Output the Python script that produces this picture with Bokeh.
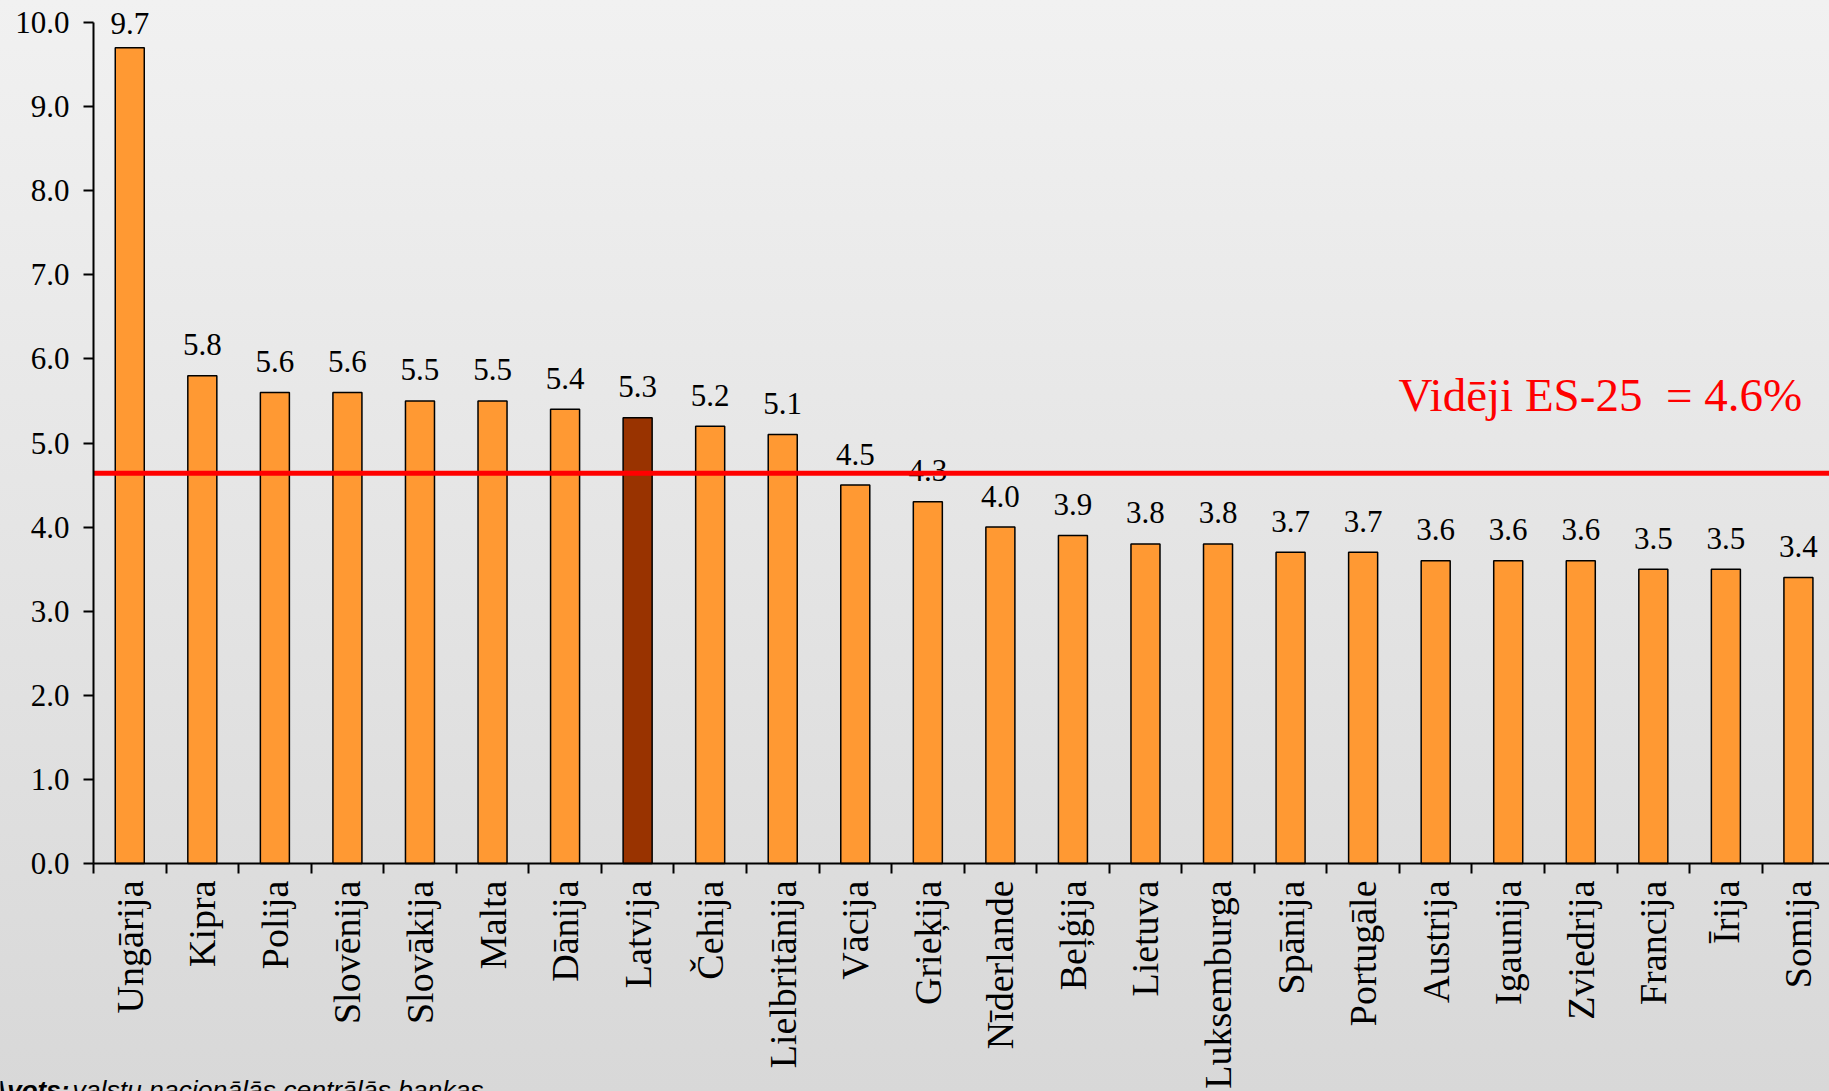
import numpy as np
from bokeh.plotting import figure
from bokeh.models import (Range1d, FixedTicker, Label, ColumnDataSource,
                          PrintfTickFormatter)
from bokeh.core.properties import value
from bokeh.embed import file_html
from bokeh.resources import INLINE

# ---------------- data ----------------
countries = ["Ungārija", "Kipra", "Polija", "Slovēnija", "Slovākija", "Malta",
             "Dānija", "Latvija", "Čehija", "Lielbritānija", "Vācija", "Grieķija",
             "Nīderlande", "Beļģija", "Lietuva", "Luksemburga", "Spānija",
             "Portugāle", "Austrija", "Igaunija", "Zviedrija", "Francija",
             "Īrija", "Somija"]
rates = [9.7, 5.8, 5.6, 5.6, 5.5, 5.5, 5.4, 5.3, 5.2, 5.1, 4.5, 4.3, 4.0, 3.9,
         3.8, 3.8, 3.7, 3.7, 3.6, 3.6, 3.6, 3.5, 3.5, 3.4]
highlight = "Latvija"
eu_avg = 4.64
eu_avg_label = "Vidēji ES-25\u00a0 = 4.6%"
y_ticks = [0, 1, 2, 3, 4, 5, 6, 7, 8, 9, 10]
source_bold = "Avots:"
source_rest = "valstu nacionālās centrālās bankas"

# ---------------- layout (pixels) ----------------
W, H = 1829, 1091
AX_X = 93          # screen x of the value axis
AX_Y = 863         # screen y of the category axis (value 0)
PX_PER_CAT = 72.55
PX_PER_UNIT = 84.1


def sx(px):
    return (px - AX_X) / PX_PER_CAT


def sy(py):
    return (AX_Y - py) / PX_PER_UNIT


n = len(countries)
xs = [i + 0.5 for i in range(n)]
colors = ["#993300" if c == highlight else "#FF9933" for c in countries]
labels = [f"{v:.1f}" for v in rates]
offsets = [-24 if v == max(rates) else -31 for v in rates]

src = ColumnDataSource(dict(x=xs, v=rates, color=colors, lbl=labels, off=offsets))

p = figure(width=W, height=H, output_backend="svg", toolbar_location=None,
           x_range=Range1d(sx(0), sx(W)), y_range=Range1d(sy(H), sy(0)),
           min_border_left=0, min_border_right=0, min_border_top=0,
           min_border_bottom=0)
p.background_fill_alpha = 0
p.border_fill_alpha = 0
p.outline_line_color = None
p.xgrid.visible = False
p.ygrid.visible = False
p.styles = {"background": "linear-gradient(to bottom, #f1f1f1 0%, #d8d8d8 100%)"}

SERIF = "Liberation Serif"

p.vbar(x="x", top="v", bottom=0, width=0.4, fill_color="color",
       line_color="black", line_width=1.5, source=src)

p.text(x="x", y="v", text="lbl", y_offset="off", text_align="center",
       text_baseline="alphabetic", text_font=value(SERIF),
       text_font_size="31px", text_color="black", source=src)

# EU average line starting at the value axis
p.ray(x=[0], y=[eu_avg], length=0, angle=0, line_color="#FF0000", line_width=5)

# y axis
ya = p.yaxis[0]
ya.fixed_location = 0
ya.ticker = FixedTicker(ticks=y_ticks)
ya.formatter = PrintfTickFormatter(format="%.1f")
ya.bounds = (0, 10)
ya.major_tick_out = 10
ya.major_tick_in = 0
ya.minor_tick_line_color = None
ya.axis_line_width = 2
ya.major_tick_line_width = 2
ya.major_label_standoff = 14
ya.major_label_text_font = SERIF
ya.major_label_text_font_size = "31px"
ya.major_label_text_color = "black"

# x axis
xa = p.xaxis[0]
xa.fixed_location = 0
xa.bounds = (0, n)
xa.ticker = FixedTicker(ticks=xs, minor_ticks=list(range(n + 1)))
xa.major_label_overrides = {x: c for x, c in zip(xs, countries)}
xa.major_tick_line_color = None
xa.major_tick_out = 0
xa.major_tick_in = 0
xa.minor_tick_out = 10
xa.minor_tick_in = 0
xa.minor_tick_line_width = 2
xa.minor_tick_line_color = "black"
xa.axis_line_width = 2
xa.major_label_orientation = np.pi / 2
xa.major_label_standoff = 7
xa.major_label_text_font = SERIF
xa.major_label_text_font_size = "38px"
xa.major_label_text_color = "black"

# EU average label
p.add_layout(Label(x=sx(1398), y=sy(394), text=eu_avg_label,
                   text_color="#FF0000", text_font=SERIF,
                   text_font_size="47px", text_baseline="alphabetic"))

# source note (cut by the bottom edge, as in the original)
p.add_layout(Label(x=sx(-12), y=sy(1089), text=source_bold,
                   text_font="Liberation Sans", text_font_style="bold italic",
                   text_font_size="26px", text_color="black",
                   text_baseline="alphabetic"))
p.add_layout(Label(x=sx(72), y=sy(1089), text=source_rest,
                   text_font="Liberation Sans", text_font_style="italic",
                   text_font_size="26.5px", text_color="black",
                   text_baseline="alphabetic"))

open("out.html", "w").write(file_html(p, INLINE))
